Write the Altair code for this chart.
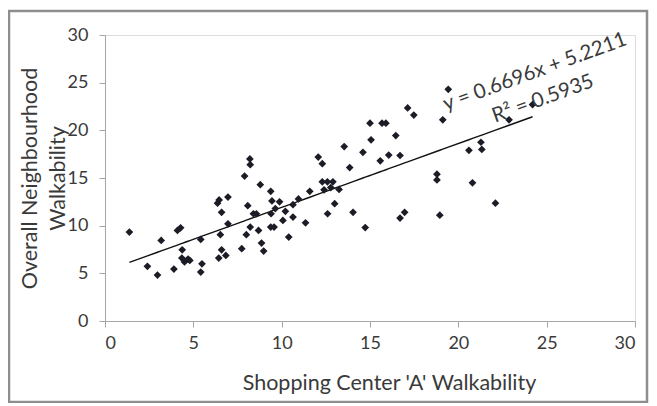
import altair as alt
import pandas as pd

# Shopping Center 'A' walkability (x) vs overall neighbourhood walkability (y)
x_vals = [1.38, 2.40, 2.97, 3.18, 3.90, 4.10, 4.28, 4.37, 4.35, 4.50, 4.70, 4.80,
          5.42, 5.49, 5.42, 6.37, 6.46, 6.60, 6.53, 6.44, 6.60, 6.84, 6.96, 6.96,
          7.74, 7.90, 8.00, 8.08, 8.20, 8.22, 8.22, 8.40, 8.57, 8.69, 8.79, 8.86,
          8.98, 9.38, 9.45, 9.40, 9.38, 9.57, 9.64, 9.88, 10.07, 10.21, 10.40, 10.64,
          10.64, 10.95, 11.35, 11.59, 12.07, 12.30, 12.30, 12.40, 12.59, 12.60, 12.78,
          12.90, 13.00, 13.25, 13.54, 13.85, 14.04, 14.60, 14.73, 15.00, 15.06, 15.58,
          15.68, 15.90, 16.06, 16.46, 16.70, 16.70, 16.96, 17.13, 17.48, 18.79, 18.79,
          18.95, 19.12, 19.43, 20.60, 20.80, 21.28, 21.33, 22.10, 22.87, 24.20]
y_vals = [9.33, 5.73, 4.82, 8.45, 5.45, 9.50, 9.78, 7.47, 6.60, 6.20, 6.50, 6.35,
          8.56, 6.00, 5.13, 12.36, 12.70, 11.40, 9.05, 6.60, 7.47, 6.88, 13.00, 10.20,
          7.58, 15.20, 9.05, 12.10, 17.00, 16.40, 9.85, 11.25, 11.25, 9.50, 14.30, 8.17,
          7.33, 13.60, 12.60, 11.25, 9.85, 9.85, 11.80, 12.50, 10.55, 11.50, 8.80, 12.20,
          10.90, 12.80, 10.30, 13.60, 17.20, 16.50, 14.60, 13.76, 14.60, 11.25, 14.00,
          14.60, 12.30, 13.80, 18.30, 16.10, 11.40, 17.70, 9.80, 20.75, 19.00, 16.80,
          20.75, 20.75, 17.40, 19.45, 17.36, 10.80, 11.40, 22.35, 21.60, 15.40, 14.80,
          11.10, 21.10, 24.30, 17.90, 14.50, 18.75, 18.00, 12.36, 21.10, 22.70]

slope = 0.6696
intercept = 5.2211
eq_lines = ["y = 0.6696x + 5.2211", "R² = 0.5935"]
ticks = [0, 5, 10, 15, 20, 25, 30]
x_title = "Shopping Center 'A' Walkability"
y_title = ["Overall Neighbourhood", "Walkability"]

FONT = "Lato"
TXT = "#3a3a3a"
AXC = "#a6a6a6"

df = pd.DataFrame({"x": x_vals, "y": y_vals})
W, H = 530, 286

xs = alt.X("x:Q", scale=alt.Scale(domain=[0, 30], nice=False, zero=False),
           axis=alt.Axis(values=ticks, title=x_title, grid=False, domainColor=AXC,
                         tickColor=AXC, tickSize=6, labelPadding=7, labelFontSize=18,
                         labelColor=TXT, labelFont=FONT, titleFont=FONT, titleFontSize=21.5,
                         titleFontWeight="normal", titleColor=TXT, titleX=284,
                         titleY=68, titleBaseline="alphabetic"))
ys = alt.Y("y:Q", scale=alt.Scale(domain=[0, 30], nice=False, zero=False),
           axis=alt.Axis(values=ticks, title=y_title, grid=False, domainColor=AXC,
                         tickColor=AXC, tickSize=6, labelPadding=11, labelFontSize=18,
                         labelColor=TXT, labelFont=FONT, titleFont=FONT, titleFontSize=21.5,
                         titleFontWeight="normal", titleColor=TXT, titleAngle=270,
                         titleX=-64, titleY=143, titleBaseline="bottom",
                         titleLineHeight=28))

points = alt.Chart(df).mark_point(shape="diamond", filled=True, size=60,
                                  color="#1c1c26", opacity=1).encode(x=xs, y=ys)

trend = alt.Chart(df).transform_calculate(
    fit=f"{slope} * datum.x + {intercept}"
).mark_line(color="#111111", strokeWidth=1.4).encode(
    x=alt.X("x:Q"), y=alt.Y("fit:Q"), order="x:Q")

eq1 = alt.Chart(pd.DataFrame({"t": [eq_lines[0]]})).mark_text(
    angle=340, font=FONT, fontSize=20.5, color=TXT, align="center", baseline="middle"
).encode(text="t:N", x=alt.value(430), y=alt.value(37))
eq2 = alt.Chart(pd.DataFrame({"t": [eq_lines[1]]})).mark_text(
    angle=340, font=FONT, fontSize=20.5, color=TXT, align="center", baseline="middle"
).encode(text="t:N", x=alt.value(438), y=alt.value(64))

frame = alt.Chart(pd.DataFrame({"a": [0]})).mark_rect(
    fill=None, stroke="#8e8e8e", strokeWidth=2.5, clip=False
).encode(x=alt.value(-96), x2=alt.value(542), y=alt.value(-24), y2=alt.value(367))

chart = alt.layer(frame, trend, points, eq1, eq2).properties(
    width=W, height=H,
    autosize=alt.AutoSizeParams(type="none"),
    padding={"left": 97, "top": 27, "right": 14, "bottom": 82},
).configure_view(stroke=None).configure(background="white")

chart.save("out.html", embed_options={"renderer": "svg", "actions": False})
